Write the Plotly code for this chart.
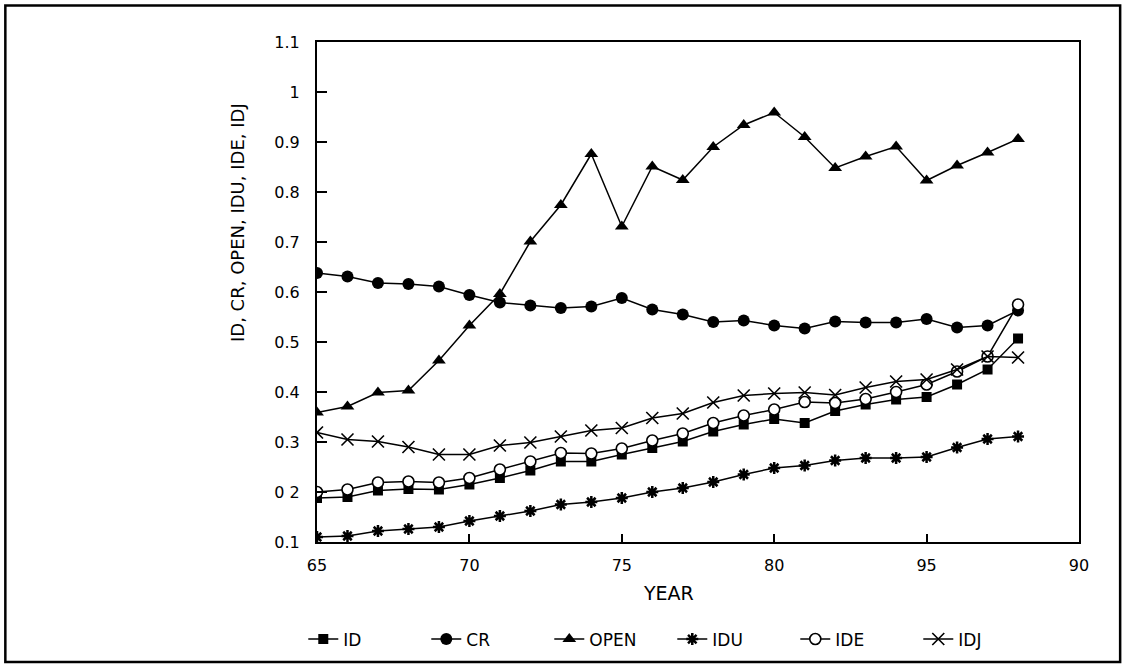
import plotly.graph_objects as go

# Years (two-digit) on the horizontal axis
years = list(range(65, 89))

id_vals = [0.188, 0.190, 0.203, 0.206, 0.205, 0.215, 0.228, 0.243, 0.261, 0.261,
           0.275, 0.288, 0.301, 0.321, 0.335, 0.346, 0.338, 0.362, 0.375, 0.385,
           0.390, 0.415, 0.445, 0.507]
cr_vals = [0.638, 0.631, 0.618, 0.616, 0.611, 0.594, 0.579, 0.573, 0.568, 0.571,
           0.588, 0.565, 0.555, 0.540, 0.543, 0.533, 0.527, 0.541, 0.539, 0.539,
           0.546, 0.529, 0.533, 0.563]
open_vals = [0.359, 0.371, 0.399, 0.403, 0.463, 0.533, 0.596, 0.701, 0.774, 0.876,
             0.731, 0.851, 0.824, 0.890, 0.934, 0.959, 0.910, 0.848, 0.871, 0.891,
             0.823, 0.853, 0.879, 0.906]
idu_vals = [0.110, 0.112, 0.122, 0.126, 0.130, 0.142, 0.152, 0.162, 0.175, 0.180,
            0.188, 0.200, 0.208, 0.220, 0.235, 0.248, 0.253, 0.263, 0.268, 0.268,
            0.270, 0.289, 0.306, 0.311]
ide_vals = [0.200, 0.205, 0.219, 0.221, 0.219, 0.228, 0.245, 0.261, 0.278, 0.277,
            0.287, 0.303, 0.317, 0.338, 0.353, 0.365, 0.380, 0.378, 0.386, 0.400,
            0.415, 0.441, 0.471, 0.575]
idj_vals = [0.319, 0.305, 0.301, 0.290, 0.275, 0.275, 0.293, 0.299, 0.311, 0.323,
            0.328, 0.348, 0.357, 0.379, 0.393, 0.397, 0.399, 0.394, 0.409, 0.421,
            0.425, 0.445, 0.471, 0.469]

x_tickvals = [65, 70, 75, 80, 85, 90]
x_ticktext = ["65", "70", "75", "80", "95", "90"]
y_tickvals = [0.1, 0.2, 0.3, 0.4, 0.5, 0.6, 0.7, 0.8, 0.9, 1.0, 1.1]
y_ticktext = ["0.1", "0 2", "0.3", "0.4", "0.5", "0.6", "0.7", "0.8", "0.9", "1", "1.1"]

FONT = "DejaVu Sans"
INK = "black"

series = [
    ("ID", id_vals, dict(symbol="square", size=10, color=INK)),
    ("CR", cr_vals, dict(symbol="circle", size=12, color=INK)),
    ("OPEN", open_vals, dict(symbol="triangle-up", size=12, color=INK)),
    ("IDU", idu_vals, dict(symbol="asterisk-open", size=10, color=INK,
                           line=dict(width=2.5, color=INK))),
    ("IDE", ide_vals, dict(symbol="circle", size=11, color="white",
                           line=dict(width=1.6, color=INK))),
    ("IDJ", idj_vals, dict(symbol="x-thin-open", size=12, color=INK,
                           line=dict(width=1.6, color=INK))),
]

fig = go.Figure()
for name, vals, marker in series:
    fig.add_trace(go.Scatter(
        x=years, y=vals, name=name, mode="lines+markers",
        line=dict(color=INK, width=1.5), marker=marker,
    ))

axis_common = dict(
    showline=True, linecolor=INK, linewidth=2, mirror=True,
    showgrid=False, zeroline=False,
    ticks="inside", tickcolor=INK, tickwidth=2,
    tickfont=dict(family=FONT, size=16, color=INK),
)

fig.update_xaxes(range=[65, 90], tickvals=x_tickvals, ticktext=x_ticktext,
                 ticklen=8, ticklabelstandoff=8, **axis_common)
fig.update_yaxes(range=[0.1, 1.1], tickvals=y_tickvals, ticktext=y_ticktext,
                 ticklen=10, ticklabelstandoff=12, **axis_common)

# Axis titles
fig.add_annotation(text="YEAR", xref="paper", yref="paper", x=0.461, y=-0.101,
                   xanchor="center", yanchor="middle",
                   showarrow=False, font=dict(family=FONT, size=19, color=INK))
fig.add_annotation(text="ID, CR, OPEN, IDU, IDE, IDJ", xref="paper", yref="paper",
                   x=-0.105, y=0.64, xanchor="center", yanchor="middle",
                   textangle=-90, showarrow=False,
                   font=dict(family=FONT, size=18, color=INK))

# Outer frame around the whole figure
fig.add_shape(type="rect", xref="paper", yref="paper",
              x0=-0.409, x1=1.054, y0=-0.24, y1=1.073,
              line=dict(color=INK, width=2.5))

fig.update_layout(
    width=1126, height=672,
    margin=dict(l=317, r=47, t=42, b=130),
    paper_bgcolor="white", plot_bgcolor="white",
    font=dict(family=FONT, color=INK),
    showlegend=True,
    legend=dict(orientation="h", x=-0.018, xanchor="left", y=-0.195, yanchor="middle",
                entrywidth=78, entrywidthmode="pixels",
                font=dict(family=FONT, size=17, color=INK),
                bgcolor="rgba(0,0,0,0)", itemsizing="trace"),
)

fig.write_html("out.html")
